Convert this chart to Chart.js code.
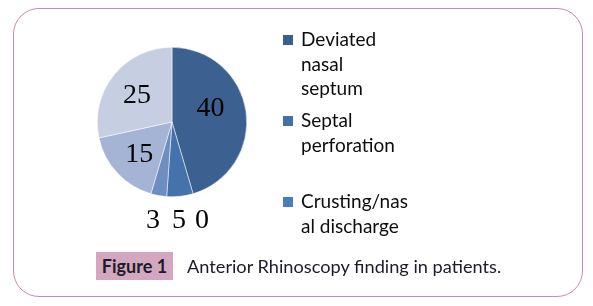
<!DOCTYPE html>
<html>
<head>
<meta charset="utf-8">
<script src="https://cdn.jsdelivr.net/npm/chart.js@4/dist/chart.umd.min.js"></script>
<style>
  html, body { margin: 0; padding: 0; background: #fff; }
  #wrap { position: relative; width: 593px; height: 306px; overflow: hidden; }
  #frame { position: absolute; left: 13px; top: 8px; width: 570px; height: 289px;
    border: 1px solid #c48cb2; border-radius: 26px; box-sizing: border-box; }
  canvas { position: absolute; left: 0; top: 0; }
  #cap { position: absolute; left: 96px; top: 252px; height: 28px; font-family: Lato, "Open Sans", sans-serif; }
  #fig { position: absolute; left: 0; top: 0; width: 77px; height: 28px; background: #d4a7c0;
    font-weight: bold; font-size: 18px; line-height: 28px; text-align: center; color: #1b1b2b; }
  #txt { position: absolute; left: 91px; top: 0; white-space: nowrap; font-size: 18.2px; line-height: 28px; color: #1b1b2b; }
</style>
</head>
<body>
<div id="wrap">
  <div id="frame"></div>
  <canvas id="c" width="593" height="306"></canvas>
  <div id="cap"><div id="fig">Figure 1</div><div id="txt">Anterior Rhinoscopy finding in patients.</div></div>
</div>
<script>
// Categories (only first three appear in the legend of the original figure)
const categories = [
  ["Deviated", "nasal", "septum"],
  ["Septal", "perforation"],
  ["Crusting/nas", "al discharge"],
  "", "", ""
];
const values = [40, 5, 0, 3, 15, 25];
const colors = ["#3c6190", "#4672ac", "#4c7dbd", "#6e8dc1", "#a5b4d4", "#c6cfe2"];
const legendColors = ["#3b5f8d", "#4470a8", "#4c7cbd"];

const labelPlugin = {
  id: 'sliceLabels',
  afterDatasetsDraw(chart) {
    const ctx = chart.ctx;
    const meta = chart.getDatasetMeta(0);
    ctx.save();
    ctx.font = '28px "Liberation Serif", "Times New Roman", serif';
    ctx.fillStyle = '#000';
    ctx.textAlign = 'center';
    ctx.textBaseline = 'middle';
    const data = chart.data.datasets[0].data;
    const total = data.reduce((a, b) => a + b, 0);
    const below = [];
    meta.data.forEach((arc, i) => {
      const v = data[i];
      const frac = v / total;
      if (frac > 0.1) {
        const mid = (arc.startAngle + arc.endAngle) / 2;
        const r = arc.outerRadius * 0.6;
        const big = frac > 0.4;
        ctx.fillText(String(v), arc.x + Math.cos(mid) * r - (big ? 6 : 0),
                     arc.y + Math.sin(mid) * r + (big ? -7 : 2));
      } else {
        below.push({ v, arc });
      }
    });
    if (below.length) {
      const arc0 = below[0].arc;
      const y = arc0.y + arc0.outerRadius + 24;
      const order = [2, 0, 1]; // left to right: 3, 5, 0
      const xs = [-19, 7, 30];
      order.forEach((k, j) => {
        if (below[k]) ctx.fillText(String(below[k].v), arc0.x + xs[j], y);
      });
    }
    ctx.restore();
  }
};

const legendPlugin = {
  id: 'customLegend',
  afterDraw(chart) {
    const ctx = chart.ctx;
    ctx.save();
    ctx.font = '19px Lato, "Open Sans", sans-serif';
    ctx.textBaseline = 'middle';
    ctx.textAlign = 'left';
    const x0 = 283, tx = 301, y0 = 40, step = 81, lh = 24.5;
    let idx = 0;
    chart.data.labels.forEach((lab, i) => {
      if (!lab || (Array.isArray(lab) && !lab.length)) return;
      const lines = Array.isArray(lab) ? lab : [lab];
      const y = y0 + idx * step;
      ctx.fillStyle = legendColors[i] || colors[i];
      ctx.fillRect(x0, y - 5, 10, 10);
      ctx.fillStyle = '#0d0d0d';
      lines.forEach((ln, j) => ctx.fillText(ln, tx, y + j * lh));
      idx++;
    });
    ctx.restore();
  }
};

new Chart(document.getElementById('c'), {
  type: 'pie',
  data: {
    labels: categories,
    datasets: [{
      data: values,
      backgroundColor: colors,
      borderColor: '#ffffff',
      borderWidth: 0.5
    }]
  },
  options: {
    responsive: false,
    animation: false,
    layout: { padding: { left: 97, right: 346, top: 47, bottom: 109 } },
    plugins: { legend: { display: false }, tooltip: { enabled: false } }
  },
  plugins: [labelPlugin, legendPlugin]
});
</script>
</body>
</html>
